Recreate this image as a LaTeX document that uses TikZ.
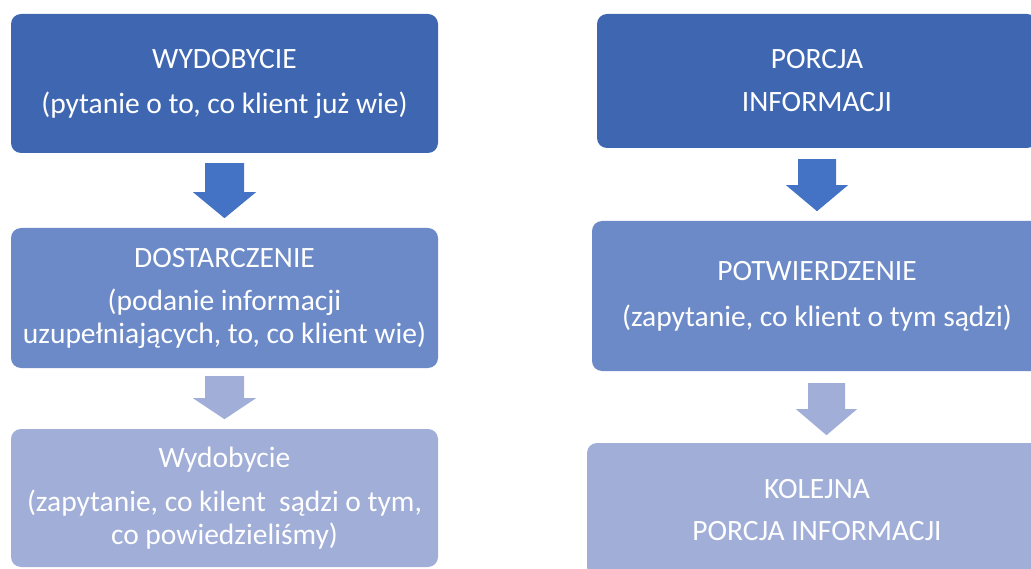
\documentclass[tikz,border=0pt]{standalone}
\usepackage{fontspec}
\setmainfont{Carlito}
\definecolor{cDark}{RGB}{63,103,177}
\definecolor{cArrowA}{RGB}{68,114,196}
\definecolor{cMid}{RGB}{108,138,200}
\definecolor{cLight}{RGB}{160,174,216}
\tikzset{
  flowbox/.style={rounded corners=10pt, text=white, align=center, inner sep=0pt,
    font=\fontsize{29.5}{33}\selectfont},
  pics/blockarrow/.style args={#1/#2/#3/#4}{code={
    \fill[pic actions] (-#1,0) -- (#1,0) -- (#1,#2) -- (#3,#2) -- (0,#4)
      -- (-#3,#2) -- (-#1,#2) -- cycle;
  }}
}
\begin{document}
\begin{tikzpicture}[x=1pt,y=-1pt]
\useasboundingbox (0,0) rectangle (1031,569);
\clip (0,0) rectangle (1031,569);

% left column
\node[flowbox, fill=cDark, minimum width=427pt, minimum height=139pt] (L1) at (224.5,83.5)
  {WYDOBYCIE\\[12pt](pytanie o to, co klient już wie)};
\node[flowbox, fill=cMid, minimum width=427pt, minimum height=140pt] (L2) at (224.5,298)
  {DOSTARCZENIE\\[10pt](podanie informacji\\uzupełniających, to, co klient wie)};
\node[flowbox, fill=cLight, minimum width=427pt, minimum height=138pt] (L3) at (224.5,498)
  {Wydobycie\\[11pt](zapytanie, co kilent\ \ sądzi o tym,\\co powiedzieliśmy)};

% right column
\node[flowbox, fill=cDark, minimum width=440pt, minimum height=134pt] (R1) at (817,81)
  {PORCJA\\[10pt]INFORMACJI};
\node[flowbox, fill=cMid, minimum width=450pt, minimum height=150pt] (R2) at (817,296)
  {POTWIERDZENIE\\[13pt](zapytanie, co klient o tym sądzi)};
\node[flowbox, fill=cLight, minimum width=460pt, minimum height=134pt] (R3) at (817,510)
  {KOLEJNA\\[9pt]PORCJA INFORMACJI};

% block arrows
\coordinate (aL1) at ([yshift=-10pt]L1.south);
\coordinate (aL2) at ([yshift=-8pt]L2.south);
\coordinate (aR1) at ([yshift=-11pt]R1.south);
\coordinate (aR2) at ([xshift=9.5pt,yshift=-12pt]R2.south);
\pic[fill=cArrowA] at (aL1) {blockarrow={19.5/29/31.5/55}};
\pic[fill=cLight] at (aL2) {blockarrow={19.5/22/31.5/43}};
\pic[fill=cArrowA] at (aR1) {blockarrow={19/26/31/52}};
\pic[fill=cLight] at (aR2) {blockarrow={18.5/26/30.5/52}};
\end{tikzpicture}
\end{document}
